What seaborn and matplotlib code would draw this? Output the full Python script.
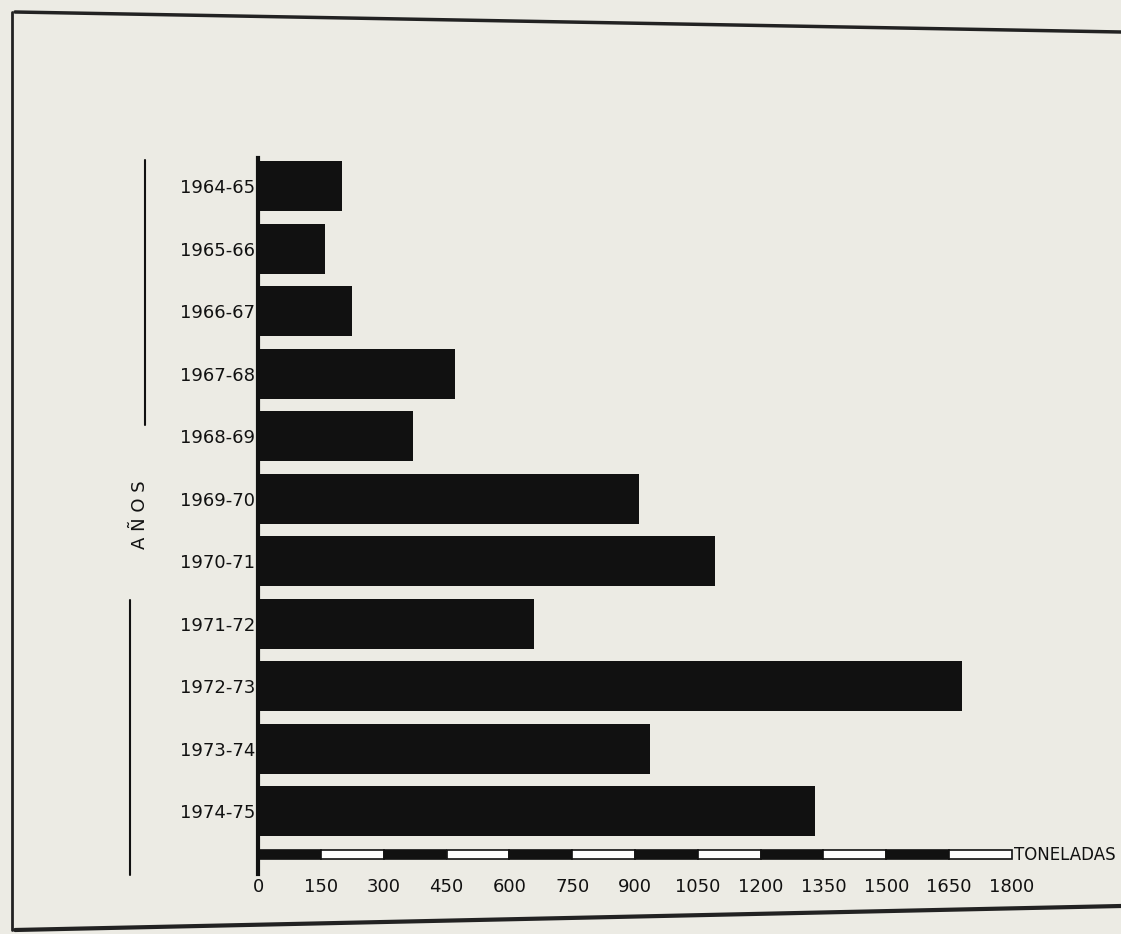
import matplotlib
matplotlib.use("Agg")
import matplotlib.pyplot as plt
from matplotlib.patches import Rectangle
from matplotlib.lines import Line2D
import seaborn as sns
import pandas as pd

years = ["1964-65", "1965-66", "1966-67", "1967-68", "1968-69", "1969-70",
         "1970-71", "1971-72", "1972-73", "1973-74", "1974-75"]
toneladas = [200, 160, 225, 470, 370, 910, 1090, 660, 1680, 935, 1330]
tick_values = [0, 150, 300, 450, 600, 750, 900, 1050, 1200, 1350, 1500, 1650, 1800]

bg = "#ecebe4"
sns.set_theme(style="white")
plt.rcParams['font.family'] = ['DejaVu Sans']

df = pd.DataFrame({"year": years, "t": toneladas})

W, H = 1121, 934
fig = plt.figure(figsize=(W / 100, H / 100), dpi=100, facecolor=bg)
ax = fig.add_axes([258 / W, 1 - 874 / H, (1012 - 258) / W, (874 - 158) / H])
ax.set_facecolor(bg)

sns.barplot(data=df, y="year", x="t", orient="h", color="#111111",
            width=0.8, saturation=1, edgecolor="none", linewidth=0, ax=ax)

ax.set_xlim(0, 1800)
ax.set_ylim(11.0, -0.45)

# scale bar with alternating segments
for i in range(len(tick_values) - 1):
    x0 = tick_values[i]
    w = tick_values[i + 1] - tick_values[i]
    fc = "#111111" if i % 2 == 0 else "white"
    ax.add_patch(Rectangle((x0, 10.62), w, 0.14, facecolor=fc,
                           edgecolor="#111111", linewidth=1.2, clip_on=False))
ax.text(1805, 10.69, "TONELADAS", ha="left", va="center", fontsize=12,
        color="#111111", clip_on=False)

ax.set_xticks(tick_values)
ax.set_xticklabels([str(v) for v in tick_values], fontsize=13, color="#111111")
ax.tick_params(axis="x", length=0, pad=3)
ax.tick_params(axis="y", length=0, pad=2, labelsize=13, labelcolor="#111111")
ax.set_xlabel("")
ax.set_ylabel("")
for s in ["top", "right", "bottom"]:
    ax.spines[s].set_visible(False)
ax.spines["left"].set_color("#111111")
ax.spines["left"].set_linewidth(3)

# "AÑOS" label with lines
fig.text(140 / W, 1 - 515 / H, "A Ñ O S", rotation=90, ha="center", va="center",
         fontsize=13, color="#111111")
fig.add_artist(Line2D([145 / W, 145 / W], [1 - 160 / H, 1 - 425 / H],
                      color="#111111", linewidth=1.5))
fig.add_artist(Line2D([130 / W, 130 / W], [1 - 600 / H, 1 - 875 / H],
                      color="#111111", linewidth=1.5))

# frame lines of the scanned page
fig.add_artist(Line2D([15 / W, 1], [1 - 12 / H, 1 - 32 / H], color="#222222", linewidth=2.5))
fig.add_artist(Line2D([12 / W, 12 / W], [1 - 12 / H, 1 - 930 / H], color="#222222", linewidth=2))
fig.add_artist(Line2D([15 / W, 1], [1 - 930 / H, 1 - 906 / H], color="#222222", linewidth=3))

fig.savefig("out.png", dpi=100, facecolor=bg)
